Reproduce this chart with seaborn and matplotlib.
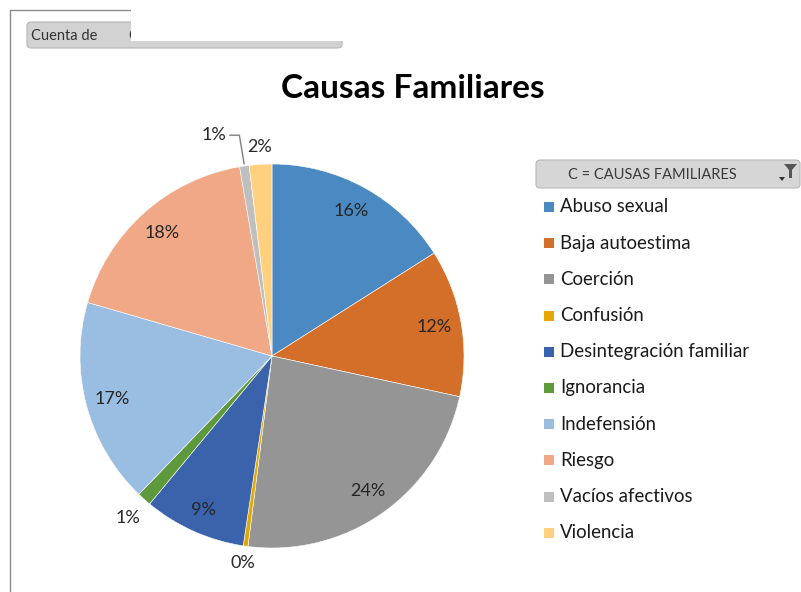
import numpy as np
import matplotlib
matplotlib.use("Agg")
import matplotlib.pyplot as plt
from matplotlib.patches import FancyBboxPatch, Rectangle, Polygon
import seaborn as sns

categories = ["Abuso sexual", "Baja autoestima", "Coerción", "Confusión",
              "Desintegración familiar", "Ignorancia", "Indefensión", "Riesgo",
              "Vacíos afectivos", "Violencia"]
values = [16.0, 12.4, 23.6, 0.4, 8.6, 1.2, 17.3, 17.8, 0.8, 1.9]
colors = ["#4A89C2", "#D46F2A", "#959595", "#E5A800", "#3B63AC",
          "#5E9A3C", "#9ABDE2", "#F0A887", "#BFBFBF", "#FFD17F"]
title = "Causas Familiares"
legend_title = "C = CAUSAS FAMILIARES"
pivot_label = "Cuenta de"

sns.set_theme(style="white")
plt.rcParams['font.family'] = ['Lato', 'DejaVu Sans']

W, H = 801, 592
fig = plt.figure(figsize=(W / 100, H / 100), dpi=100)
fig.patch.set_facecolor("white")

def fx(px):
    return px / W

def fy(py):
    return 1 - py / H

# pie axes
cx, cy, R = 272, 356, 192
ax = fig.add_axes([fx(cx - R), fy(cy + R), 2 * R / W, 2 * R / H])
ax.axis("off")

wedges, _ = ax.pie(values, colors=colors, startangle=90, counterclock=False,
                   radius=1.0, wedgeprops=dict(edgecolor="white", linewidth=0.4))
ax.set_xlim(-1, 1)
ax.set_ylim(-1, 1)
ax.set_aspect("equal")

label_dist = [0.86, 0.86, 0.86, 1.09, 0.88, 1.13, 0.86, 0.86, 1.2, 1.09]
for i, w in enumerate(wedges):
    ang = np.deg2rad((w.theta1 + w.theta2) / 2)
    d = label_dist[i]
    x, y = d * np.cos(ang), d * np.sin(ang)
    pct = f"{round(values[i] / sum(values) * 100):.0f}%"
    if i == 8:
        x, y = -0.305, 1.15
        ax.plot([-0.22, -0.17, -0.145], [1.15, 1.15, 1.0], color="#7f7f7f",
                lw=1.0, clip_on=False)
    ax.text(x, y, pct, ha="center", va="center", fontsize=13, color="#262626",
            clip_on=False)

# title
fig.text(fx(413), fy(88), title, ha="center", va="center", fontsize=24,
         fontweight="bold", color="black")

# frame lines
fig.add_artist(plt.Line2D([fx(10), fx(10)], [fy(10), fy(592)], color="#8c8c8c",
                          lw=1.0, transform=fig.transFigure))
fig.add_artist(plt.Line2D([fx(10), fx(131)], [fy(10), fy(10)], color="#8c8c8c",
                          lw=1.0, transform=fig.transFigure))

# pivot button (partially covered)
btn = FancyBboxPatch((fx(27), fy(48)), fx(342) - fx(27), fy(22) - fy(48),
                     boxstyle="round,pad=0,rounding_size=0.006",
                     facecolor="#d2d2d2", edgecolor="#b5b5b5", lw=0.8,
                     transform=fig.transFigure)
fig.add_artist(btn)
fig.text(fx(128), fy(36), "C", ha="left", va="center", fontsize=10.5,
         color="#333333")
fig.add_artist(Rectangle((fx(131), fy(41)), fx(345) - fx(131), fy(0) - fy(41),
                         facecolor="white", edgecolor="none",
                         transform=fig.transFigure, zorder=5))
fig.text(fx(31), fy(36), pivot_label, ha="left", va="center", fontsize=10.5,
         color="#333333")

# legend header button
lb = FancyBboxPatch((fx(536), fy(188)), fx(800) - fx(536), fy(160) - fy(188),
                    boxstyle="round,pad=0,rounding_size=0.006",
                    facecolor="#d6d6d6", edgecolor="#b8b8b8", lw=0.8,
                    transform=fig.transFigure)
fig.add_artist(lb)
fig.text(fx(652), fy(175), legend_title, ha="center", va="center", fontsize=10.5,
         color="#3a3a3a")
# filter icon
fig.add_artist(Polygon([(fx(784), fy(164)), (fx(797), fy(164)), (fx(792), fy(170)),
                        (fx(792), fy(178)), (fx(789), fy(178)), (fx(789), fy(170))],
                       closed=True, facecolor="#555555", edgecolor="none",
                       transform=fig.transFigure))
fig.add_artist(Polygon([(fx(779), fy(177)), (fx(785), fy(177)), (fx(782), fy(181))],
                       closed=True, facecolor="#333333", edgecolor="none",
                       transform=fig.transFigure))

# legend entries
y0, dy = 207, 36.2
for i, (cat, col) in enumerate(zip(categories, colors)):
    yy = y0 + i * dy
    fig.add_artist(Rectangle((fx(544), fy(yy + 5)), fx(10), fy(0) - fy(10),
                             facecolor=col, edgecolor="none",
                             transform=fig.transFigure))
    fig.text(fx(560), fy(yy), cat, ha="left", va="center", fontsize=13.4,
             color="#1a1a1a")

fig.savefig("out.png", dpi=100, facecolor="white")
